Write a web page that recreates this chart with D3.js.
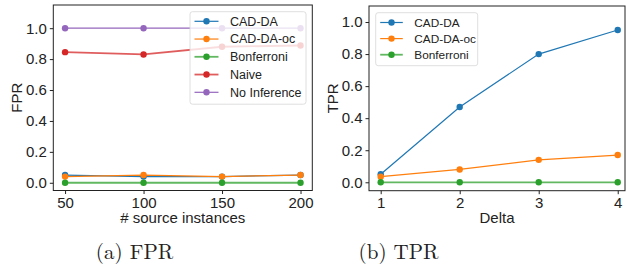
<!DOCTYPE html>
<html>
<head>
<meta charset="utf-8">
<script src="https://cdn.jsdelivr.net/npm/d3@7"></script>
<style>
  body { margin: 0; background: #fff; }
  svg text { font-family: "Liberation Sans", Arial, sans-serif; fill: #222; }
</style>
</head>
<body>
<script>
// FPR panel data
const sourceInstances = [50, 100, 150, 200];
const fprCadDa = [0.05, 0.04, 0.04, 0.05];
const fprCadDaOc = [0.04, 0.05, 0.04, 0.05];
const fprBonferroni = [0, 0, 0, 0];
const fprNaive = [0.845, 0.83, 0.88, 0.888];
const fprNoInference = [1, 1, 1, 1];

// TPR panel data
const deltas = [1, 2, 3, 4];
const tprCadDa = [0.05, 0.47, 0.80, 0.95];
const tprCadDaOc = [0.035, 0.08, 0.14, 0.17];
const tprBonferroni = [0, 0, 0, 0];

const yTicks = [0, 0.2, 0.4, 0.6, 0.8, 1.0];

const width = 627, height = 266;
const svg = d3.select('body').append('svg')
  .attr('width', width)
  .attr('height', height);

const styles = {
  'CAD-DA': { color: '#1f77b4', w: 1.2, op: 1 },
  'CAD-DA-oc': { color: '#ff7f0e', w: 1.2, op: 1 },
  'Bonferroni': { color: '#2ca02c', w: 1.8, op: 0.75 },
  'Naive': { color: '#d62728', w: 1.8, op: 0.75 },
  'No Inference': { color: '#9467bd', w: 1.2, op: 1 }
};

function panel(opt) {
  const x = d3.scaleLinear().domain(opt.xDomain).range([opt.left, opt.right]);
  const y = d3.scaleLinear().domain(opt.yDomain).range([opt.bottom, opt.top]);
  const g = svg.append('g');

  // axes
  g.append('g')
    .attr('transform', `translate(0,${opt.bottom})`)
    .call(d3.axisBottom(x).tickValues(opt.xTicks).tickSize(3.5).tickPadding(3).tickFormat(d3.format('d')))
    .call(a => a.select('.domain').remove())
    .call(a => a.selectAll('line').attr('stroke', '#222'))
    .call(a => a.selectAll('text').style('font-size', '15px').attr('fill', '#222'));
  g.append('g')
    .attr('transform', `translate(${opt.left},0)`)
    .call(d3.axisLeft(y).tickValues(yTicks).tickSize(3.5).tickPadding(3).tickFormat(d3.format('.1f')))
    .call(a => a.select('.domain').remove())
    .call(a => a.selectAll('line').attr('stroke', '#222'))
    .call(a => a.selectAll('text').style('font-size', '15px').attr('fill', '#222'));

  // series
  opt.series.forEach(s => {
    const st = styles[s.name];
    const pts = opt.xs.map((v, i) => [v, s.values[i]]);
    g.append('path')
      .datum(pts)
      .attr('fill', 'none')
      .attr('stroke', st.color)
      .attr('stroke-width', st.w)
      .attr('stroke-opacity', st.op)
      .attr('d', d3.line().x(d => x(d[0])).y(d => y(d[1])));
    g.selectAll(null)
      .data(pts)
      .enter().append('circle')
      .attr('cx', d => x(d[0]))
      .attr('cy', d => y(d[1]))
      .attr('r', 3.2)
      .attr('fill', st.color);
  });

  // frame
  g.append('rect')
    .attr('x', opt.left).attr('y', opt.top)
    .attr('width', opt.right - opt.left).attr('height', opt.bottom - opt.top)
    .attr('fill', 'none').attr('stroke', '#222').attr('stroke-width', 1);

  // labels
  g.append('text')
    .attr('x', (opt.left + opt.right) / 2).attr('y', 223)
    .attr('text-anchor', 'middle').style('font-size', '15px')
    .text(opt.xLabel);
  g.append('text')
    .attr('transform', `translate(${opt.yLabelX},${(opt.top + opt.bottom) / 2}) rotate(-90)`)
    .attr('text-anchor', 'middle').attr('dy', '0.35em').style('font-size', '15px')
    .text(opt.yLabel);

  // legend
  const lg = opt.legend;
  g.append('rect')
    .attr('x', lg.x).attr('y', lg.y)
    .attr('width', lg.w).attr('height', lg.h)
    .attr('rx', 2.5)
    .attr('fill', '#fff').attr('fill-opacity', 0.8)
    .attr('stroke', '#d6d6d6').attr('stroke-width', 0.8);
  opt.series.forEach((s, i) => {
    const st = styles[s.name];
    const cy = lg.y + lg.first + i * lg.step;
    g.append('line')
      .attr('x1', lg.x + 4.5).attr('x2', lg.x + 4.5 + lg.lineLen)
      .attr('y1', cy).attr('y2', cy)
      .attr('stroke', st.color).attr('stroke-width', st.w).attr('stroke-opacity', st.op);
    g.append('circle')
      .attr('cx', lg.x + 4.5 + lg.lineLen / 2).attr('cy', cy).attr('r', 3.2)
      .attr('fill', st.color);
    g.append('text')
      .attr('x', lg.x + 4.5 + lg.lineLen + 11.5).attr('y', cy).attr('dy', '0.35em')
      .style('font-size', lg.font + 'px')
      .text(s.name);
  });

  // caption
  svg.append('text')
    .attr('x', opt.captionX).attr('y', 259)
    .attr('text-anchor', 'middle')
    .style('font-family', '"Latin Modern Roman", "DejaVu Serif", "Liberation Serif", serif')
    .style('font-size', '21px')
    .text(opt.caption);
}

panel({
  left: 53.3, right: 312.3, top: 5, bottom: 190.5,
  xDomain: [42.5, 207.5], yDomain: [-0.05, 1.15],
  xs: sourceInstances, xTicks: sourceInstances,
  xLabel: '# source instances', yLabel: 'FPR', yLabelX: 17,
  series: [
    { name: 'CAD-DA', values: fprCadDa },
    { name: 'CAD-DA-oc', values: fprCadDaOc },
    { name: 'Bonferroni', values: fprBonferroni },
    { name: 'Naive', values: fprNaive },
    { name: 'No Inference', values: fprNoInference }
  ],
  legend: { x: 190, y: 11.7, w: 116, h: 92.5, first: 9.6, step: 17.75, lineLen: 24, font: 12.5 },
  caption: '(a) FPR', captionX: 134.5
});

panel({
  left: 369, right: 625, top: 6, bottom: 190.7,
  xDomain: [0.852, 4.092], yDomain: [-0.0525, 1.1],
  xs: deltas, xTicks: deltas,
  xLabel: 'Delta', yLabel: 'TPR', yLabelX: 333,
  series: [
    { name: 'CAD-DA', values: tprCadDa },
    { name: 'CAD-DA-oc', values: tprCadDaOc },
    { name: 'Bonferroni', values: tprBonferroni }
  ],
  legend: { x: 375.7, y: 12.7, w: 102, h: 53, first: 9.8, step: 16.1, lineLen: 22.6, font: 11.8 },
  caption: '(b) TPR', captionX: 398.5
});
</script>
</body>
</html>
